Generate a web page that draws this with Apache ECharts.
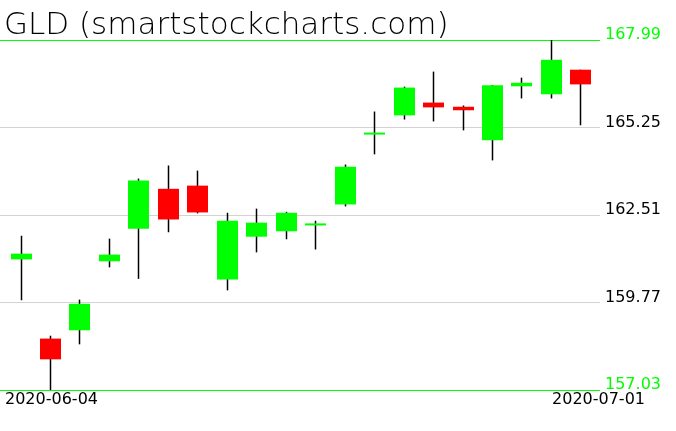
<!DOCTYPE html>
<html>
<head>
<meta charset="utf-8">
<script src="https://cdn.jsdelivr.net/npm/echarts@6/dist/echarts.min.js"></script>
<style>html,body{margin:0;padding:0;background:#fff}#c{width:676px;height:431px}</style>
</head>
<body>
<div id="c"></div>
<script>
const title = 'GLD (smartstockcharts.com)';
const dates = ['2020-06-04','2020-06-05','2020-06-08','2020-06-09','2020-06-10','2020-06-11','2020-06-12','2020-06-15','2020-06-16','2020-06-17','2020-06-18','2020-06-19','2020-06-22','2020-06-23','2020-06-24','2020-06-25','2020-06-26','2020-06-29','2020-06-30','2020-07-01'];
const openV  = [161.12,158.64,158.90,161.06,162.08,163.33,163.43,160.49,161.83,162.00,162.19,162.84,165.03,165.63,166.03,165.90,164.85,166.54,166.29,167.06];
const closeV = [161.30,157.99,159.73,161.27,163.59,162.37,162.59,162.33,162.27,162.58,162.24,164.02,165.09,166.50,165.88,165.79,166.57,166.65,167.37,166.60];
const lowV   = [159.84,157.03,158.46,160.87,160.51,161.97,162.56,160.15,161.34,161.75,161.43,162.78,164.41,165.50,165.44,165.16,164.22,166.16,166.16,165.32];
const highV  = [161.86,158.73,159.86,161.77,163.65,164.06,163.90,162.58,162.71,162.61,162.33,164.09,165.75,166.53,167.00,165.94,166.58,166.81,167.99,167.06];
const yTicks = [157.03,159.77,162.51,165.25,167.99];
const xLabels = [dates[0], dates[dates.length-1]];

const GREEN = '#00ff00', RED = '#ff0000', GRID = '#d3d3d3';
const yMin = yTicks[0], yMax = yTicks[yTicks.length-1];

const data = dates.map((d,i)=>[i, openV[i], closeV[i], lowV[i], highV[i]]);

function renderItem(params, api){
  const i = api.value(0), o = api.value(1), c = api.value(2), l = api.value(3), h = api.value(4);
  const pH = api.coord([i,h]), pL = api.coord([i,l]), pO = api.coord([i,o]), pC = api.coord([i,c]);
  const w = Math.round(api.size([1,0])[0]*0.715);
  const x = Math.round(pO[0]);
  let top = Math.min(pO[1],pC[1]);
  let hgt = Math.abs(pO[1]-pC[1]);
  if (hgt < 2) { top -= (2-hgt)/2; hgt = 2; }
  return {type:'group', children:[
    {type:'line', shape:{x1:x+0.5, y1:pH[1], x2:x+0.5, y2:pL[1]}, style:{stroke:'#000', lineWidth:1.5}},
    {type:'rect', shape:{x:x+0.5-w/2, y:top, width:w, height:hgt}, style:{fill: c>=o ? GREEN : RED}}
  ]};
}

const FONT = 'DejaVu Sans';
const chart = echarts.init(document.getElementById('c'), null, {renderer:'canvas'});
chart.setOption({
  animation:false,
  backgroundColor:'#fff',
  grid:{left:0, top:40, width:600, height:350},
  xAxis:{type:'value', min:-0.696, max:19.664, show:false},
  yAxis:{type:'value', min:yMin, max:yMax, show:false},
  graphic:[
    {type:'text', left:4, top:10, style:{text:title, font:'200 31px "DejaVu Sans"', fill:'#000'}},
    {type:'text', left:5, top:392, style:{text:xLabels[0], font:'normal 16px "DejaVu Sans"', fill:'#000'}},
    {type:'text', right:31, top:392, style:{text:xLabels[1], font:'normal 16px "DejaVu Sans"', fill:'#000'}}
  ],
  series:[{
    type:'custom',
    renderItem: renderItem,
    data: data,
    encode:{x:0, y:[1,2,3,4]},
    clip:false,
    z:2,
    markLine:{
      silent:true, symbol:'none', animation:false, z:1,
      data: yTicks.map((v,k)=>{
        const edge = (k===0 || k===yTicks.length-1);
        return {yAxis:v,
          lineStyle:{color: edge?GREEN:GRID, width:1, type:'solid'},
          label:{show:true, position:'end', distance:5, color: edge?GREEN:'#000',
            fontFamily:FONT, fontSize:16, fontWeight:'normal',
            verticalAlign:'bottom', padding:[0,0,-3,0],
            formatter: v.toFixed(2)}};
      })
    }
  }]
});
</script>
</body>
</html>
